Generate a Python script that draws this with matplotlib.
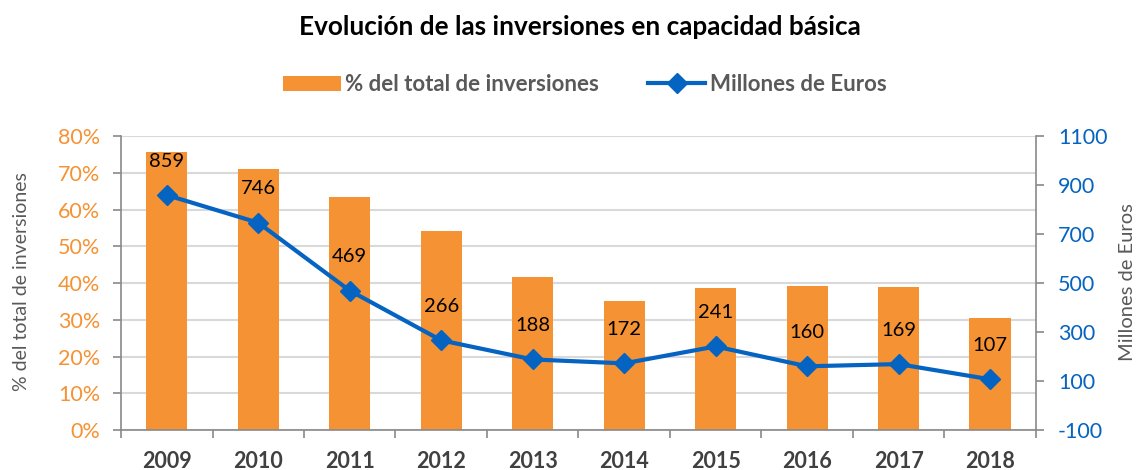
import matplotlib.pyplot as plt
import numpy as np

years = ['2009', '2010', '2011', '2012', '2013', '2014', '2015', '2016', '2017', '2018']
pct_total = [75.6, 71.1, 63.3, 54.1, 41.5, 35.1, 38.7, 39.2, 38.9, 30.5]
millones = [859, 746, 469, 266, 188, 172, 241, 160, 169, 107]

orange = '#F59233'
blue = '#0563C1'
gray = '#595959'

plt.rcParams['font.family'] = ['Lato', 'DejaVu Sans']

fig = plt.figure(figsize=(11.42, 4.70), dpi=100)
ax = fig.add_axes([0.106, 0.0851, 0.801, 0.6255])
x = np.arange(len(years))

bars = ax.bar(x, pct_total, width=0.45, color=orange, zorder=2, label='% del total de inversiones')
ax.set_xlim(-0.5, len(years) - 0.5)
ax.set_ylim(0, 80)
ax.set_yticks(range(0, 81, 10))
ax.set_yticklabels([f'{v}%' for v in range(0, 81, 10)], color=orange, fontsize=15.5)
ax.yaxis.grid(True, color='#D9D9D9', linewidth=1.5, zorder=0)
ax.set_axisbelow(True)
ax.set_xticks(x)
ax.set_xticklabels(years, fontsize=15.5, fontweight='bold', color='#404040')
ax.set_xticks(np.arange(-0.5, len(years)), minor=True)
ax.tick_params(axis='x', which='major', length=0, pad=15)
ax.tick_params(axis='x', which='minor', length=6, color='#898989', width=1.2)
ax.tick_params(axis='y', length=6, color='#898989', width=1.2, pad=9)
for s in ['top', 'right']:
    ax.spines[s].set_visible(False)
for s in ['left', 'bottom']:
    ax.spines[s].set_color('#898989')
    ax.spines[s].set_linewidth(1.2)

ax2 = ax.twinx()
line, = ax2.plot(x, millones, color=blue, linewidth=3, marker='D', markersize=10,
                 zorder=3, label='Millones de Euros')
ax2.set_ylim(-100, 1100)
ax2.set_yticks(range(-100, 1101, 200))
ax2.set_yticklabels([str(v) for v in range(-100, 1101, 200)], color=blue, fontsize=15.5)
ax2.tick_params(axis='y', length=6, color='#898989', width=1.2, pad=10)
for s in ['top', 'left', 'bottom']:
    ax2.spines[s].set_visible(False)
ax2.spines['right'].set_color('#898989')
ax2.spines['right'].set_linewidth(1.2)

for xi, v in zip(x, millones):
    ax2.annotate(str(v), (xi, v), xytext=(0, 24.5), textcoords='offset points',
                 ha='center', va='center', fontsize=14.5, color='black')

# axis titles placed in figure coordinates
fig.text(0.019, 0.40, '% del total de inversiones', rotation=90, ha='center', va='center',
         fontsize=14, color=gray)
fig.text(0.987, 0.40, 'Millones de Euros', rotation=90, ha='center', va='center',
         fontsize=14.5, color=gray)

fig.text(0.508, 0.942, 'Evolución de las inversiones en capacidad básica',
         ha='center', va='center', fontsize=18.8, fontweight='bold', color='black')

leg = fig.legend([bars, line], ['% del total de inversiones', 'Millones de Euros'],
                 loc='center', bbox_to_anchor=(0.512, 0.82), ncol=2, frameon=False,
                 prop={'size': 16, 'weight': 'bold'}, handlelength=2.6, columnspacing=2.2,
                 handletextpad=0.2)
for t in leg.get_texts():
    t.set_color(gray)

plt.savefig('out.png', dpi=100)
